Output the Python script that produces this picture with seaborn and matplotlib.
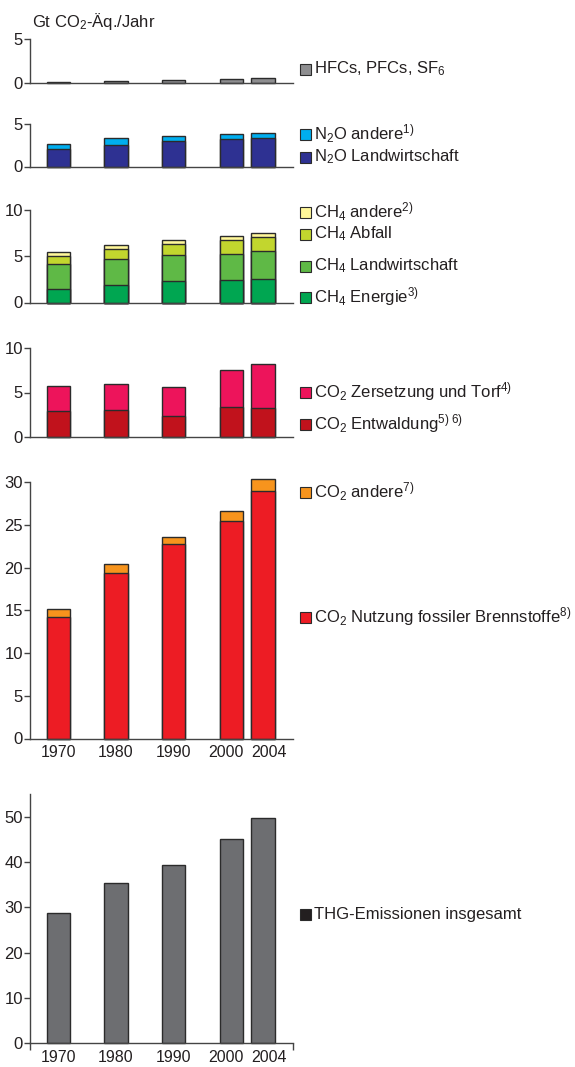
import numpy as np
import pandas as pd
import seaborn as sns
import matplotlib.pyplot as plt
from matplotlib.patches import Rectangle

years = ["1970", "1980", "1990", "2000", "2004"]
xpos = [0, 1, 2, 3, 3.55]
label_pos = [0, 1, 2, 2.9, 3.65]

hfc = [0.1, 0.25, 0.3, 0.5, 0.58]
n2o_landw = [2.04, 2.54, 2.97, 3.25, 3.36]
n2o_andere = [0.66, 0.79, 0.63, 0.55, 0.63]
ch4_energie = [1.44, 1.87, 2.30, 2.45, 2.59]
ch4_landw = [2.73, 2.88, 2.81, 2.84, 2.95]
ch4_abfall = [0.90, 1.08, 1.18, 1.44, 1.51]
ch4_andere = [0.40, 0.39, 0.44, 0.50, 0.43]
co2_entw = [2.91, 2.98, 2.34, 3.36, 3.28]
co2_zers = [2.86, 3.02, 3.28, 4.15, 4.91]
co2_fossil = [14.2, 19.31, 22.71, 25.48, 28.95]
co2_andere = [0.94, 1.10, 0.86, 1.13, 1.40]
thg_total = [28.7, 35.5, 39.3, 45.1, 49.8]

sns.set_theme(style="white")
plt.rcParams['font.family'] = ['Liberation Sans', 'DejaVu Sans']
plt.rcParams['mathtext.fontset'] = 'custom'
plt.rcParams['mathtext.rm'] = 'Liberation Sans'
plt.rcParams['mathtext.it'] = 'Liberation Sans'
plt.rcParams['mathtext.default'] = 'regular'

W, H = 575, 1067
fig = plt.figure(figsize=(W / 100, H / 100), dpi=100)

dark = '#231f20'
edge = '#2b2b2b'
bar_w = 0.406
wparam = bar_w / min(np.diff(xpos))

# panels: (top px, bottom px, ymax, yticks, layers bottom->top, colors)
panels = [
    (39, 83, 5, [0, 5], [hfc], ['#8e8e90']),
    (124, 166.5, 5, [0, 5], [n2o_landw, n2o_andere], ['#2e3192', '#00aeef']),
    (210, 302.5, 10, [0, 5, 10], [ch4_energie, ch4_landw, ch4_abfall, ch4_andere],
     ['#00a651', '#5fb946', '#c2d62e', '#fff799']),
    (348, 437, 10, [0, 5, 10], [co2_entw, co2_zers], ['#c1121c', '#ed145b']),
    (482, 738.5, 30, [0, 5, 10, 15, 20, 25, 30], [co2_fossil, co2_andere], ['#ed1c24', '#f7941d']),
    (794, 1043, 55.1, [0, 10, 20, 30, 40, 50], [thg_total], ['#6d6e71']),
]

x_left, x_right = 30, 293
for i, (top, bot, ymax, yt, layers, cols) in enumerate(panels):
    ax = fig.add_axes([x_left / W, 1 - bot / H, (x_right - x_left) / W, (bot - top) / H])
    cum = np.cumsum(np.array(layers), axis=0)
    # draw tallest stack first, then overlay lower parts
    for k in range(len(layers) - 1, -1, -1):
        df = pd.DataFrame({'x': xpos, 'y': cum[k]})
        sns.barplot(data=df, x='x', y='y', native_scale=True, width=wparam,
                    color=cols[k], saturation=1, edgecolor=edge, linewidth=1.0,
                    errorbar=None, ax=ax)
    for p in ax.patches:
        p.set_clip_on(False)
    ax.set_xlim(-0.49, 4.07)
    ax.set_ylim(0, ymax)
    ax.set_yticks(yt)
    ax.set_xlabel('')
    ax.set_ylabel('')
    for s in ['top', 'right']:
        ax.spines[s].set_visible(False)
    for s in ['left', 'bottom']:
        ax.spines[s].set_color('#444444')
        ax.spines[s].set_linewidth(1.0)
    ax.tick_params(axis='y', direction='out', length=4, width=1, color='#444444',
                   labelsize=12, labelcolor=dark, pad=1, left=True)
    if i >= 4:
        ax.set_xticks(label_pos)
        ax.set_xticklabels(years)
        ax.tick_params(axis='x', length=0, labelsize=11.5, labelcolor=dark, pad=5)
        if i == 5:
            ax.set_xticks([-0.49, 4.07], minor=True)
            ax.tick_params(axis='x', which='minor', direction='out', length=5,
                           width=1, color='#444444', bottom=True)
    else:
        ax.set_xticks([])

fig.text(32 / W, 1 - 22 / H, 'Gt CO$_2$-Äq./Jahr', fontsize=12, color=dark,
         ha='left', va='center')

legend_labels = [
    'HFCs, PFCs, SF$_6$',
    'N$_2$O andere$^{1)}$',
    'N$_2$O Landwirtschaft',
    'CH$_4$ andere$^{2)}$',
    'CH$_4$ Abfall',
    'CH$_4$ Landwirtschaft',
    'CH$_4$ Energie$^{3)}$',
    'CO$_2$ Zersetzung und Torf$^{4)}$',
    'CO$_2$ Entwaldung$^{5)\\ 6)}$',
    'CO$_2$ andere$^{7)}$',
    'CO$_2$ Nutzung fossiler Brennstoffe$^{8)}$',
    'THG-Emissionen insgesamt',
]
legend_colors = ['#8e8e90', '#00aeef', '#2e3192', '#fff799', '#c2d62e', '#5fb946',
                 '#00a651', '#ed145b', '#c1121c', '#f7941d', '#ed1c24', dark]
legend_y = [69, 134, 157, 212, 234, 266, 297, 392, 424, 492, 617, 914]

for lab, c, y in zip(legend_labels, legend_colors, legend_y):
    sq = 11
    fig.add_artist(Rectangle((300 / W, 1 - (y + sq / 2) / H), sq / W, sq / H,
                             facecolor=c, edgecolor=edge, linewidth=0.8,
                             transform=fig.transFigure))
    fig.text(314 / W, 1 - y / H, lab, fontsize=12, color=dark, ha='left', va='center')

fig.savefig('out.png', dpi=100)
